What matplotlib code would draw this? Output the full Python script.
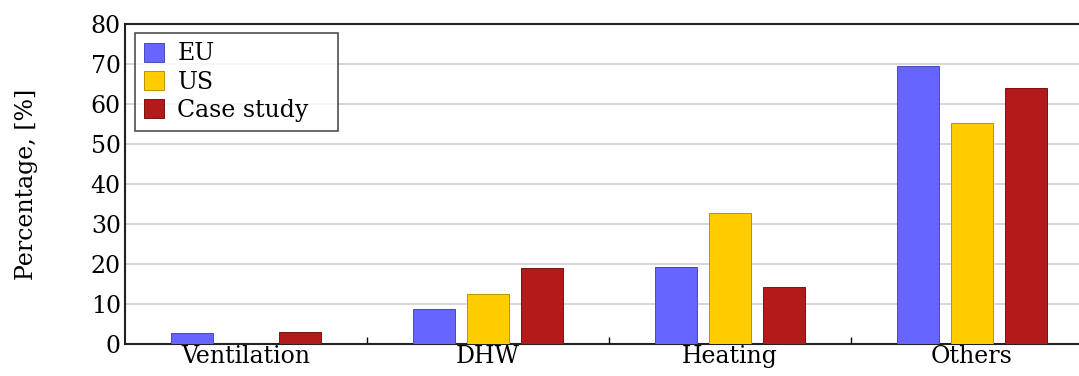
import numpy as np
import matplotlib.pyplot as plt
from matplotlib.ticker import FixedLocator, NullFormatter

# Energy shares per end use
categories = ["Ventilation", "DHW", "Heating", "Others"]
eu = [2.8, 8.8, 19.2, 69.4]
us = [0.0, 12.5, 32.8, 55.3]
case_study = [3.1, 18.9, 14.2, 64.1]

series = [("EU", eu, "#6666ff", "#4a4ab8"),
          ("US", us, "#ffcc00", "#b89400"),
          ("Case study", case_study, "#b31b1b", "#7a1212")]

plt.rcParams["font.family"] = "DejaVu Serif"
plt.rcParams["font.size"] = 17

fig = plt.figure(figsize=(10.79, 3.76), dpi=100)
ax = fig.add_axes([125 / 1079, 32 / 376, 968 / 1079, 320 / 376])

x = np.arange(len(categories))
step = 0.223
width = 0.174
for i, (name, vals, fc, ec) in enumerate(series):
    ax.bar(x + (i - 1) * step, vals, width, color=fc, edgecolor=ec,
           linewidth=0.7, label=name, zorder=3)

ax.set_xlim(-0.5, 3.5)
ax.set_ylim(0, 80)
ax.set_yticks(range(0, 81, 10))
ax.yaxis.grid(True, color="#d0d0d0", linewidth=1.2, zorder=0)
ax.set_axisbelow(True)

# category labels in the middle, small ticks at the group boundaries
ax.xaxis.set_major_locator(FixedLocator([0.5, 1.5, 2.5]))
ax.xaxis.set_major_formatter(NullFormatter())
ax.xaxis.set_minor_locator(FixedLocator(x))
ax.set_xticklabels(categories, minor=True)
ax.tick_params(axis="x", which="major", direction="in", length=5, width=1)
ax.tick_params(axis="x", which="minor", length=0, pad=1)
ax.tick_params(axis="y", direction="out", length=0, pad=3)

for side in ["left", "bottom", "top"]:
    ax.spines[side].set_linewidth(1.5)
    ax.spines[side].set_color("#222222")
ax.spines["right"].set_visible(False)

ax.set_ylabel("Percentage, [%]", labelpad=38)

leg = ax.legend(loc="upper left", bbox_to_anchor=(0.0103, 0.0, 0.2097, 0.972),
                mode="expand", frameon=True, fancybox=False,
                edgecolor="#222222", borderpad=0.4,
                handlelength=0.85, handleheight=0.85, handletextpad=0.55,
                labelspacing=0.22, borderaxespad=0)
leg.get_frame().set_linewidth(1.2)

fig.savefig("out.png", dpi=100)
